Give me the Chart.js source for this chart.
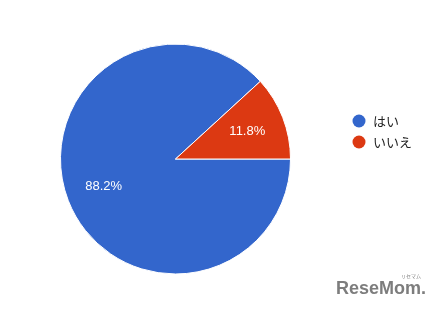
<!DOCTYPE html>
<html>
<head>
<meta charset="utf-8">
<script src="https://cdn.jsdelivr.net/npm/chart.js@4"></script>
<style>
  html, body { margin: 0; padding: 0; background: #fff; }
  #wrap { position: relative; width: 442px; height: 312px; }
  #logo { position: absolute; left: 336px; top: 279px; line-height: 18px; font-family: "Liberation Sans", Arial, sans-serif;
          font-weight: bold; font-size: 18px; color: #7d7d7d; }
  #logo small { position: absolute; right: 5px; top: -6px; line-height: 6px; font-size: 5px; font-weight: normal;
                font-family: "Noto Sans CJK JP", sans-serif; }
</style>
</head>
<body>
<div id="wrap">
  <canvas id="myPieChart" width="442" height="312"></canvas>
  <div id="logo">ReseMom.<small>リセマム</small></div>
</div>
<script>
const labels = ['はい', 'いいえ'];
const values = [88.2, 11.8];
const colors = ['#3366cc', '#dc3912'];

// percentage text inside each slice
const sliceLabels = {
    id: 'sliceLabels',
    afterDatasetsDraw(chart) {
        const ctx = chart.ctx;
        const meta = chart.getDatasetMeta(0);
        ctx.save();
        ctx.fillStyle = '#ffffff';
        ctx.font = '13px "Liberation Sans", Arial, sans-serif';
        ctx.textAlign = 'center';
        ctx.textBaseline = 'middle';
        meta.data.forEach(function(arc, i) {
            const mid = (arc.startAngle + arc.endAngle) / 2;
            const r = arc.outerRadius * 0.67;
            ctx.fillText(values[i].toFixed(1) + '%', arc.x + Math.cos(mid) * r, arc.y + Math.sin(mid) * r);
        });
        ctx.restore();
    }
};

// legend to the right of the pie, like the google chart one
const sideLegend = {
    id: 'sideLegend',
    afterDraw(chart) {
        const ctx = chart.ctx;
        const area = chart.chartArea;
        const cy = (area.top + area.bottom) / 2;
        const x = area.right + 68;
        ctx.save();
        ctx.font = '13px "Noto Sans CJK JP", sans-serif';
        ctx.textBaseline = 'middle';
        chart.data.labels.forEach(function(label, i) {
            const y = cy - 38 + i * 21;
            ctx.beginPath();
            ctx.arc(x, y, 6.5, 0, Math.PI * 2);
            ctx.fillStyle = chart.data.datasets[0].backgroundColor[i];
            ctx.fill();
            ctx.fillStyle = '#222222';
            ctx.fillText(label, x + 14, y);
        });
        ctx.restore();
    }
};

const pieCtx = document.getElementById('myPieChart');

new Chart(pieCtx, {
    type: 'pie',
    data: {
        labels: labels,
        datasets: [{
            data: values,
            backgroundColor: colors,
            borderColor: '#ffffff',
            borderWidth: 1
        }]
    },
    options: {
        responsive: false,
        animation: false,
        rotation: 90,
        layout: {
            padding: { left: 60, top: 43, bottom: 37, right: 151 }
        },
        plugins: {
            legend: { display: false },
            tooltip: { enabled: false }
        }
    },
    plugins: [sliceLabels, sideLegend]
});
</script>
</body>
</html>
